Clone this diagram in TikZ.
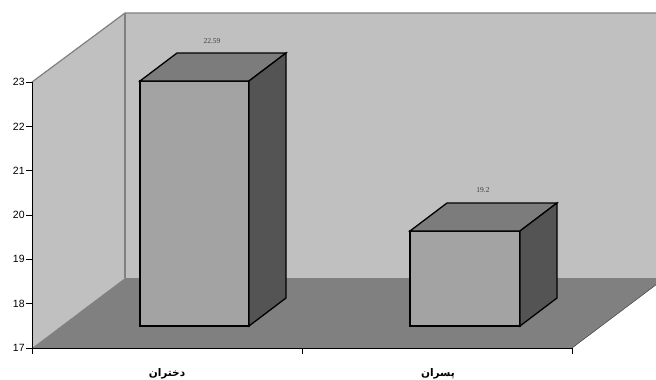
\documentclass[tikz,border=0pt]{standalone}
\usepackage{fontspec}
\setmainfont{Liberation Sans}
\newfontfamily\arabicfont[Script=Arabic]{DejaVu Sans}
\newfontfamily\valfont{Liberation Serif}
\TeXXeTstate=1

\definecolor{wallgray}{HTML}{C0C0C0}
\definecolor{floorgray}{HTML}{808080}
\definecolor{frontgray}{HTML}{A3A3A3}
\definecolor{topgray}{HTML}{7C7C7C}
\definecolor{sidegray}{HTML}{545454}

\tikzset{
  wall/.style={fill=wallgray, draw=floorgray, line width=1.2pt, line join=miter},
  barface/.style={draw=black, line width=1.3pt, line join=miter},
  ticklabel/.style={font=\fontsize{10.5}{12}\selectfont, inner sep=1pt, anchor=east},
  vallabel/.style={font=\valfont\fontsize{7.5}{8}\selectfont, text=black!75, inner sep=0pt},
  catlabel/.style={font=\arabicfont\bfseries\fontsize{10.5}{12}\selectfont, inner sep=0pt}
}

\begin{document}
\begin{tikzpicture}[x=1pt, y=-1pt]
  \useasboundingbox (0,0) rectangle (656,380);
  \clip (0,0) rectangle (656,380);

  % walls and floor
  \fill[wallgray] (32,82) -- (125,13) -- (700,13) -- (700,278) -- (125,278) -- (32,348) -- cycle;
  \fill[floorgray] (32,348) -- (125,278) -- (665,278) -- (572,348) -- cycle;
  \draw[floorgray, line width=1.2pt] (32,82) -- (125,13) -- (700,13);
  \draw[floorgray, line width=1.2pt] (125,13) -- (125,278);
  \draw[black!70, line width=0.6pt] (572,348) -- (665,278);

  % bar 1
  \draw[barface, fill=frontgray] (140,81) rectangle (249,326);
  \draw[barface, fill=topgray] (140,81) -- (177,53) -- (286,53) -- (249,81) -- cycle;
  \draw[barface, fill=sidegray] (249,81) -- (286,53) -- (286,298) -- (249,326) -- cycle;
  \node[vallabel] (val1) at (212,41) {22.59};

  % bar 2
  \draw[barface, fill=frontgray] (410,231) rectangle (520,326);
  \draw[barface, fill=topgray] (410,231) -- (447,203) -- (557,203) -- (520,231) -- cycle;
  \draw[barface, fill=sidegray] (520,231) -- (557,203) -- (557,298) -- (520,326) -- cycle;
  \node[vallabel] (val2) at (483,190) {19.2};

  % axes
  \draw[black, line width=0.9pt] (32,82) -- (32,348) -- (572,348);
  \foreach \v in {17,...,23}
    \draw[black, line width=0.8pt] (32,{348-(\v-17)*44.33}) -- ++(-6,0) node[ticklabel] {\v};
  \foreach \x in {32,302,572}
    \draw[black, line width=0.8pt] (\x,348) -- ++(0,6);

  \node[catlabel] (girls) at (167,374) {\beginR دختران\endR};
  \node[catlabel] (boys) at (438,374) {\beginR پسران\endR};
\end{tikzpicture}
\end{document}
